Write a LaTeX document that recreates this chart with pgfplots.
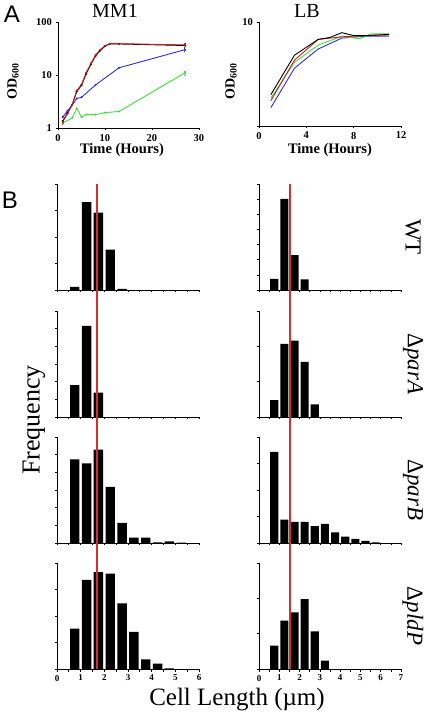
\documentclass[border=0pt]{standalone}
\usepackage{fontspec}
\setmainfont{Liberation Serif}
\newfontfamily\arialf{Liberation Sans}
\usepackage{pgfplots}
\pgfplotsset{compat=1.18}
\definecolor{cred}{RGB}{205,30,30}
\definecolor{cblue}{RGB}{45,45,215}
\definecolor{cgreen}{RGB}{60,225,60}
\definecolor{vred}{RGB}{214,45,45}
\pgfplotsset{
  growth/.style={scale only axis, anchor=south west,
    axis lines=left, axis line style={-, line width=0.9pt},
    tick align=outside, major tick length=2.5pt,
    tick style={black, line width=0.7pt},
    /pgf/number format/assume math mode=true,
    ticklabel style={font=\fontsize{10.5}{11}\selectfont\bfseries},
    enlargelimits=false, clip=false},
  hist/.style={scale only axis, anchor=south west, width=142pt, height=106pt,
    xmin=0, ymin=0, ymax=100,
    axis lines=left, axis line style={-, line width=0.9pt},
    tick align=outside, major tick length=2.5pt, minor tick length=2.5pt,
    tick style={black, line width=0.7pt},
    yticklabels={}, xticklabels={},
    /pgf/number format/assume math mode=true,
    xticklabel style={font=\fontsize{9}{9}\selectfont\bfseries},
    enlargelimits=false, clip=false},
  bars/.style={ybar, bar width=0.4, fill=black, draw=none},
  gl/.style={line width=0.9pt, mark=*, mark size=0.5pt},
}
\begin{document}
\begin{tikzpicture}[x=1pt,y=1pt]
\useasboundingbox (0,0) rectangle (425,713);
% ---------------- Panel A ----------------
\begin{axis}[growth, at={(58pt,585pt)}, width=141pt, height=106pt,
  ymode=log, xmin=0, xmax=30, ymin=1, ymax=100,
  xtick={0,10,20,30}, ytick={1,10,100}, yticklabels={1,10,100},
  yminorticks=false]
\addplot[gl, color=black] coordinates {(1,1.35)(2,1.9)(3,2.7)(4,4.9)(5,6.4)(6,10.5)(7,16)(8,23)(9,29)(10,35)(11,38.5)(13,38.5)(27,36)};
\addplot[gl, color=cblue, error bars/.cd, y dir=both, y explicit] coordinates {(1,1.6)(2,2.1)(3,2.7)(4,3.6)(5,3.8)(8,6.5)(13,13.7)(27,30) +- (0,1.5)};
\addplot[gl, color=cgreen, error bars/.cd, y dir=both, y explicit] coordinates {(1,1.25)(3,1.54)(4,2.35)(5,1.6)(6,1.8)(8,1.78)(10,1.95)(13,2.05)(27,11) +- (0,1)};
\addplot[gl, color=cred, error bars/.cd, y dir=both, y explicit] coordinates {(1,1.3) +- (0,0.1) (2,1.85)(3,2.75)(4,5.1)(5,6.6)(6,11)(7,16.5)(8,24)(9,30)(10,35.5)(11,39)(13,39)(27,37) +- (0,3)};
\end{axis}
\begin{axis}[growth, at={(259pt,587pt)}, width=142pt, height=104pt,
  ymode=log, xmin=0, xmax=12, ymin=1, ymax=10,
  xtick={0,4,8,12}, ytick={1,10}, yticklabels={,10},
  yminorticks=false]
\addplot[line width=0.9pt, color=cblue] coordinates {(1,1.5)(3,3.6)(5,5.5)(7,7.0)(9,7.3)(11,7.3)};
\addplot[line width=0.9pt, color=cgreen] coordinates {(1,1.85)(3,4.1)(5,6.0)(7,7.3)(8.5,6.9)(9.5,7.7)(11,7.7)};
\addplot[line width=0.9pt, color=cred] coordinates {(1,1.75)(3,4.3)(5,6.8)(7,7.2)(9,7.4)(11,7.5)};
\addplot[line width=0.9pt, color=black] coordinates {(1,2.0)(3,4.8)(5,6.8)(6,7.1)(7,7.9)(8,7.4)(9,7.4)(11,7.6)};
\end{axis}
\node[font=\arialf\fontsize{24}{24}\selectfont] at (12,699) {A};
\node[font=\fontsize{20}{20}\selectfont] at (115,702) {MM1};
\node[font=\fontsize{20}{20}\selectfont] at (307,702) {LB};
\node[rotate=90, font=\fontsize{14}{14}\selectfont\bfseries] at (13,632) {OD\textsubscript{600}};
\node[rotate=90, font=\fontsize{14}{14}\selectfont\bfseries] at (231,632) {OD\textsubscript{600}};
\node[font=\fontsize{14.5}{14.5}\selectfont\bfseries] at (122,563) {Time (Hours)};
\node[font=\fontsize{14.5}{14.5}\selectfont\bfseries] at (330,563) {Time (Hours)};
% ---------------- Panel B ----------------
\node[font=\arialf\fontsize{24}{24}\selectfont] at (10,513) {B};
% left column
\begin{axis}[hist, at={(57pt,423pt)}, xmax=6, xtick={0,...,6}, minor xtick={0.5,1.5,...,5.5}, ytick={0,25,50,75,100}]
\addplot[bars] coordinates {(0.75,3)(1.25,83)(1.75,73)(2.25,38)(2.75,1)};
\end{axis}
\begin{axis}[hist, at={(57pt,296pt)}, xmax=6, xtick={0,...,6}, minor xtick={0.5,1.5,...,5.5}, ytick={0,16.667,33.333,50,66.667,83.333,100}]
\addplot[bars] coordinates {(0.75,30)(1.25,86)(1.75,23)};
\end{axis}
\begin{axis}[hist, at={(57pt,170pt)}, xmax=6, xtick={0,...,6}, minor xtick={0.5,1.5,...,5.5}, ytick={0,16.667,33.333,50,66.667,83.333,100}]
\addplot[bars] coordinates {(0.75,79)(1.25,75)(1.75,88)(2.25,53)(2.75,19)(3.25,5)(3.75,5)(4.25,0.5)(4.75,1.5)(5.25,0.3)};
\end{axis}
\begin{axis}[hist, at={(57pt,44pt)}, xmax=6, xtick={0,...,6}, xticklabels={0,1,2,3,4,5,6}, minor xtick={0.5,1.5,...,5.5}, ytick={0,25,50,75,100}]
\addplot[bars] coordinates {(0.75,38)(1.25,84)(1.75,91.5)(2.25,90)(2.75,62)(3.25,35)(3.75,9)(4.25,5)(4.75,0.5)};
\addplot[color=vred, line width=1.5pt, no marks] coordinates {(1.7,0)(1.7,457.5)};
\end{axis}
% right column
\begin{axis}[hist, at={(259pt,423pt)}, xmax=7, xtick={0,...,7}, minor xtick={0.5,1.5,...,6.5}, ytick={0,14.286,28.571,42.857,57.143,71.429,85.714,100}]
\addplot[bars] coordinates {(0.75,10.5)(1.25,86)(1.75,33)(2.25,10)};
\end{axis}
\begin{axis}[hist, at={(259pt,296pt)}, xmax=7, xtick={0,...,7}, minor xtick={0.5,1.5,...,6.5}, ytick={0,33.333,66.667,100}]
\addplot[bars] coordinates {(0.75,16)(1.25,69)(1.75,72)(2.25,52)(2.75,12)};
\end{axis}
\begin{axis}[hist, at={(259pt,170pt)}, xmax=7, xtick={0,...,7}, minor xtick={0.5,1.5,...,6.5}, ytick={0,25,50,75,100}]
\addplot[bars] coordinates {(0.75,86)(1.25,22)(1.75,20)(2.25,20)(2.75,16)(3.25,18)(3.75,10)(4.25,6)(4.75,4)(5.25,2)(5.75,0.5)};
\end{axis}
\begin{axis}[hist, at={(259pt,44pt)}, xmax=7, xtick={0,...,7}, xticklabels={0,1,2,3,4,5,6,7}, minor xtick={0.5,1.5,...,6.5}, ytick={0,33.333,66.667,100}]
\addplot[bars] coordinates {(0.75,22)(1.25,45.6)(1.75,53.5)(2.25,66)(2.75,35.5)(3.25,8)};
\addplot[color=vred, line width=1.5pt, no marks] coordinates {(1.52,0)(1.52,457.5)};
\end{axis}
\node[rotate=90, font=\fontsize{26}{26}\selectfont] at (34,293) {Frequency};
\node[font=\fontsize{25}{25}\selectfont] at (237,13) {Cell Length (µm)};
\node[rotate=-90, inner sep=0pt, font=\fontsize{23}{23}\selectfont] at (413,476) {WT};
\node[rotate=-90, inner sep=0pt, font=\fontsize{23}{23}\selectfont] at (413,349) {Δ\textit{parA}};
\node[rotate=-90, inner sep=0pt, font=\fontsize{23}{23}\selectfont] at (413,223) {Δ\textit{parB}};
\node[rotate=-90, inner sep=0pt, font=\fontsize{23}{23}\selectfont] at (413,97) {Δ\textit{pldP}};
\end{tikzpicture}
\end{document}
